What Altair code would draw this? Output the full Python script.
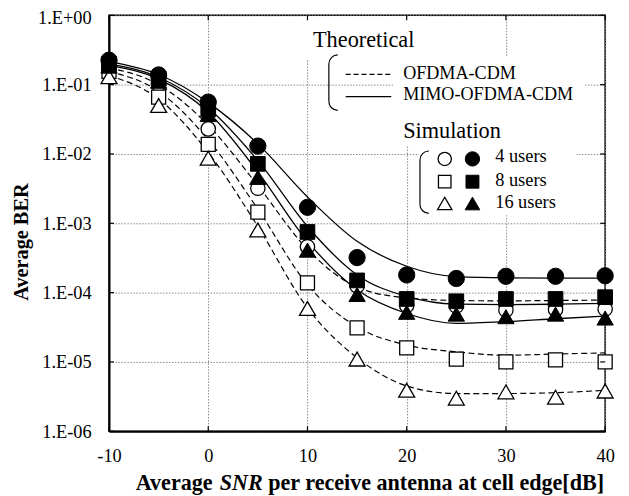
import altair as alt
import pandas as pd

# ---------------- data ----------------
snr = [-10, -5, 0, 5, 10, 15, 20, 25, 30, 35, 40]
x_ticks = [-10, 0, 10, 20, 30, 40]
y_ticks = [1, 0.1, 0.01, 0.001, 1e-4, 1e-5, 1e-6]

# Theoretical curves
th_ofdma_4 = [0.175, 0.10, 0.026, 0.0035, 4.2e-4, 1.2e-4, 8.4e-5, 7.7e-5, 7.6e-5, 7.7e-5, 7.8e-5]
th_ofdma_8 = [0.155, 0.08, 0.016, 0.0016, 1.3e-4, 3.2e-5, 1.75e-5, 1.4e-5, 1.25e-5, 1.3e-5, 1.35e-5]
th_ofdma_16 = [0.135, 0.062, 0.0105, 9e-4, 6e-5, 1.15e-5, 4.5e-6, 3.5e-6, 3.5e-6, 3.6e-6, 3.9e-6]
th_mimo_4 = [0.215, 0.14, 0.055, 0.014, 2.4e-3, 5.5e-4, 2.4e-4, 1.7e-4, 1.63e-4, 1.62e-4, 1.62e-4]
th_mimo_8 = [0.2, 0.128, 0.046, 0.008, 9e-4, 1.8e-4, 8.8e-5, 6.8e-5, 6.7e-5, 6.8e-5, 7e-5]
th_mimo_16 = [0.19, 0.12, 0.04, 0.0055, 5.5e-4, 1.1e-4, 5e-5, 3.6e-5, 3.8e-5, 4.2e-5, 4.6e-5]

# Simulation results
sim_ofdma_4 = [0.175, 0.10, 0.023, 0.0032, 4.6e-4, 1.25e-4, 6.5e-5, 6.4e-5, 5.6e-5, 5.7e-5, 5.8e-5]
sim_ofdma_8 = [0.155, 0.066, 0.0138, 0.00145, 1.38e-4, 3.1e-5, 1.6e-5, 1.1e-5, 1.0e-5, 1.07e-5, 1.0e-5]
sim_ofdma_16 = [0.13, 0.05, 0.0087, 8e-4, 5.9e-5, 1.1e-5, 3.9e-6, 3.0e-6, 3.7e-6, 3.1e-6, 3.8e-6]
sim_mimo_4 = [0.225, 0.138, 0.056, 0.013, 1.7e-3, 3.2e-4, 1.8e-4, 1.6e-4, 1.72e-4, 1.72e-4, 1.75e-4]
sim_mimo_8 = [0.2, 0.122, 0.044, 0.0072, 7.5e-4, 1.5e-4, 8.1e-5, 7.5e-5, 8.1e-5, 8.1e-5, 8.6e-5]
sim_mimo_16 = [0.185, 0.112, 0.037, 0.0046, 4.1e-4, 9.4e-5, 5.2e-5, 4.9e-5, 4.5e-5, 4.9e-5, 4.3e-5]

# ---------------- layout / style ----------------
W, H = 501, 420
SERIF = "Liberation Serif"

xs = alt.Scale(domain=[-10, 40], nice=False, zero=False)
ys = alt.Scale(type="log", domain=[1e-6, 1], nice=False)

theory_sets = [
    ("ofdma4", "OFDMA-CDM", th_ofdma_4), ("ofdma8", "OFDMA-CDM", th_ofdma_8),
    ("ofdma16", "OFDMA-CDM", th_ofdma_16), ("mimo4", "MIMO", th_mimo_4),
    ("mimo8", "MIMO", th_mimo_8), ("mimo16", "MIMO", th_mimo_16),
]
rows = []
for name, fam, vals in theory_sets:
    for s, v in zip(snr, vals):
        rows.append({"snr": s, "ber": v, "curve": name, "family": fam})
theory = pd.DataFrame(rows)

one = pd.DataFrame({"k": [0]})

grid_kw = dict(grid=True, gridColor="#8a8a8a", gridDash=[1.5, 1.5], gridWidth=1,
               tickSize=0, labelFont=SERIF, labelFontSize=18.5, labelColor="black",
               domainColor="black", domainWidth=2, title=None)
x_axis = alt.Axis(values=x_ticks, labelPadding=16, labelFlush=False,
                  labelExpr="'' + datum.value", **grid_kw)
y_axis = alt.Axis(values=y_ticks, labelPadding=18,
                  labelExpr="datum.value >= 1 ? '1.E+00' : '1.E-0' + round(-log(datum.value)/LN10)",
                  labelOffset=alt.condition("datum.value >= 1", alt.value(2), alt.value(0)),
                  **grid_kw)

X = lambda f="snr": alt.X(f"{f}:Q", scale=xs, axis=x_axis)
Y = lambda f="ber": alt.Y(f"{f}:Q", scale=ys, axis=y_axis)

layers = []

# white backgrounds behind legend
for (a, b, c, d) in [(195, 320, 1, 44), (287, 480, 42, 132), (313, 472, 132, 202)]:
    layers.append(alt.Chart(one).mark_rect(color="white").encode(
        x=alt.value(a), x2=alt.value(b), y=alt.value(c), y2=alt.value(d)))

# theoretical curves
dashed = alt.Chart(theory[theory.family == "OFDMA-CDM"]).mark_line(
    color="black", strokeWidth=1.2, strokeDash=[6, 3.5], interpolate="monotone").encode(
    x=X(), y=Y(), detail="curve:N")
solid = alt.Chart(theory[theory.family == "MIMO"]).mark_line(
    color="black", strokeWidth=1.3, interpolate="monotone").encode(
    x=X(), y=Y(), detail="curve:N")
layers += [dashed, solid]

def marker_layer(vals, shape, size, filled):
    df = pd.DataFrame({"snr": snr, "ber": vals})
    return alt.Chart(df).mark_point(
        shape=shape, size=size, filled=True, opacity=1,
        fill="black" if filled else "white", stroke="black",
        strokeWidth=1.0 if filled else 1.3).encode(x=X(), y=Y())

layers += [
    marker_layer(sim_ofdma_4, "circle", 210, False),
    marker_layer(sim_ofdma_8, "square", 200, False),
    marker_layer(sim_ofdma_16, "triangle-up", 260, False),
    marker_layer(sim_mimo_4, "circle", 270, True),
    marker_layer(sim_mimo_8, "square", 220, True),
    marker_layer(sim_mimo_16, "triangle-up", 270, True),
]

# inward ticks
xt = pd.DataFrame({"snr": x_ticks})
yt = pd.DataFrame({"ber": y_ticks})
layers += [
    alt.Chart(xt).mark_rule(color="black", strokeWidth=1.2).encode(x=X(), y=alt.value(H), y2=alt.value(H - 5)),
    alt.Chart(xt).mark_rule(color="black", strokeWidth=1.2).encode(x=X(), y=alt.value(0), y2=alt.value(5)),
    alt.Chart(yt).mark_rule(color="black", strokeWidth=1.2).encode(y=Y(), x=alt.value(0), x2=alt.value(5)),
    alt.Chart(yt).mark_rule(color="black", strokeWidth=1.2).encode(y=Y(), x=alt.value(W), x2=alt.value(W - 5)),
]

# legend: texts
def txt(s, x, y, size, weight="normal", style="normal", align="left", angle=0, baseline="alphabetic"):
    return alt.Chart(one).mark_text(text=s, font=SERIF, fontSize=size, fontWeight=weight,
                                    fontStyle=style, align=align, baseline=baseline,
                                    angle=angle, color="black").encode(
        x=alt.value(x), y=alt.value(y))

layers += [
    txt("Theoretical", 206, 32, 22.5),
    txt("OFDMA-CDM", 297, 64, 18.3),
    txt("MIMO-OFDMA-CDM", 297, 86, 18.3),
    txt("Simulation", 297, 123.5, 22.5),
    txt("4 users", 390, 148.5, 18.5),
    txt("8 users", 390, 172.5, 18.5),
    txt("16 users", 390, 195, 18.5),
]

# legend: line samples
layers += [
    alt.Chart(one).mark_rule(color="black", strokeWidth=1.2, strokeDash=[5, 3]).encode(
        x=alt.value(239), x2=alt.value(285), y=alt.value(59.7)),
    alt.Chart(one).mark_rule(color="black", strokeWidth=1.3).encode(
        x=alt.value(239), x2=alt.value(285), y=alt.value(82)),
]

# legend: brackets
def bracket(x0, y_top, y_bot, r=9):
    return [
        alt.Chart(one).mark_rule(color="black", strokeWidth=1.2).encode(
            x=alt.value(x0), y=alt.value(y_top + r), y2=alt.value(y_bot - r)),
        alt.Chart(one).mark_arc(radius=r + 0.6, radius2=r - 0.6, theta=4.712389, theta2=6.283185,
                                color="black").encode(x=alt.value(x0 + r), y=alt.value(y_top + r)),
        alt.Chart(one).mark_arc(radius=r + 0.6, radius2=r - 0.6, theta=3.141593, theta2=4.712389,
                                color="black").encode(x=alt.value(x0 + r), y=alt.value(y_bot - r)),
    ]

layers += bracket(222, 40, 96)
layers += bracket(314, 137, 200)

# legend: markers
def lm(shape, size, filled, x, y):
    return alt.Chart(one).mark_point(shape=shape, size=size, filled=True, opacity=1,
                                     fill="black" if filled else "white", stroke="black",
                                     strokeWidth=1.0 if filled else 1.3).encode(
        x=alt.value(x), y=alt.value(y))

layers += [
    lm("circle", 180, False, 339, 145), lm("circle", 210, True, 367, 145),
    lm("square", 160, False, 339, 168), lm("square", 170, True, 367, 168),
    lm("triangle-up", 210, False, 339, 190), lm("triangle-up", 220, True, 367, 190),
]

# axis titles
layers += [
    txt("Average BER", -88, 229, 20.5, weight="bold", align="center", angle=270, baseline="middle"),
    txt("Average", 27, 479, 22.3, weight="bold"),
    txt("SNR", 111.8, 479, 22.3, weight="bold", style="italic"),
    txt("per receive antenna at cell edge[dB]", 160.8, 479, 22.3, weight="bold"),
]

chart = alt.layer(*layers).properties(
    width=W, height=H,
    autosize=alt.AutoSizeParams(type="none"),
    padding={"left": 102, "top": 5, "right": 16, "bottom": 66},
    background="white",
).configure_view(stroke="black", strokeWidth=1.5)

chart.save("out.html", embed_options={"renderer": "svg", "actions": False})
